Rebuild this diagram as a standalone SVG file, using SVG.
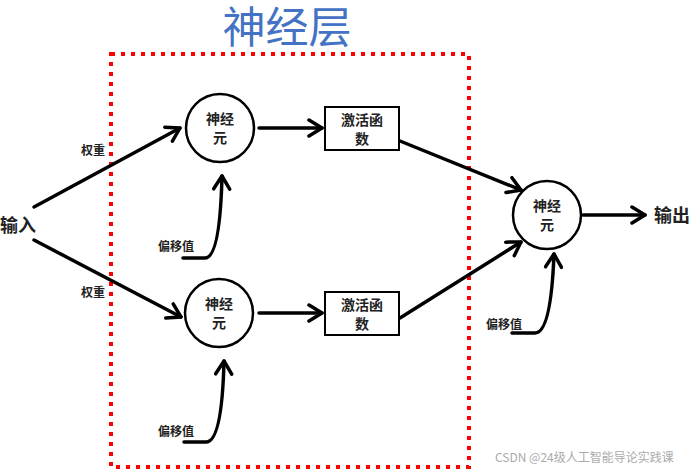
<svg xmlns="http://www.w3.org/2000/svg" width="694" height="472" viewBox="0 0 694 472">
<style>
.n{fill:#fff;stroke:#000;stroke-width:2.5}
.b{fill:#fff;stroke:#000;stroke-width:2}
.t{font-family:"Noto Sans CJK SC","Noto Sans",sans-serif;font-weight:bold;fill:#222}
.c{fill:none;stroke:#000;stroke-width:3.5;stroke-linecap:round}
</style>
<defs>
<marker id="ah" viewBox="0 0 20 20" refX="17" refY="10" markerWidth="20" markerHeight="20" markerUnits="userSpaceOnUse" orient="auto">
<path d="M4,2 L17,10 L4,18" fill="none" stroke="#000" stroke-width="3.5" stroke-linecap="round" stroke-linejoin="round"/>
</marker>
</defs>
<rect width="694" height="472" fill="#fff"/>
<text x="287" y="43" text-anchor="middle" font-family="'Noto Sans CJK SC',sans-serif" font-size="43" fill="#4472C4">神经层</text>
<rect x="111" y="54" width="358" height="413" fill="none" stroke="#f00" stroke-width="4" stroke-dasharray="4 6"/>
<g id="connectors">
<path class="c" d="M34,207 L180,128" marker-end="url(#ah)"/>
<path class="c" d="M34,240 L181,317" marker-end="url(#ah)"/>
<path class="c" d="M259,128 L322,128" marker-end="url(#ah)"/>
<path class="c" d="M259,313 L322,313" marker-end="url(#ah)"/>
<path class="c" d="M400,141 L521,190" marker-end="url(#ah)"/>
<path class="c" d="M400,318 L521,242" marker-end="url(#ah)"/>
<path class="c" d="M583,215 L645,215" marker-end="url(#ah)"/>
<path class="c" d="M183,258 L205,258 Q220,258 222,176" marker-end="url(#ah)"/>
<path class="c" d="M184,442 L206,442 Q222,442 224,361" marker-end="url(#ah)"/>
<path class="c" d="M512,333 L535,333 Q551,333 554,254" marker-end="url(#ah)"/>
</g>
<g id="input"><text class="t" x="0" y="232" font-size="18">输入</text></g>
<g id="w1"><text class="t" x="81" y="155" font-size="12">权重</text></g>
<g id="w2"><text class="t" x="81" y="297" font-size="12">权重</text></g>
<g id="neuron1">
<circle class="n" cx="220" cy="128" r="34"/>
<text class="t" x="220" y="124" font-size="14" text-anchor="middle">神经</text>
<text class="t" x="220" y="143" font-size="14" text-anchor="middle">元</text>
</g>
<g id="neuron2">
<circle class="n" cx="219" cy="313" r="34"/>
<text class="t" x="219" y="309" font-size="14" text-anchor="middle">神经</text>
<text class="t" x="219" y="328" font-size="14" text-anchor="middle">元</text>
</g>
<g id="act1">
<rect class="b" x="325" y="107" width="74" height="43"/>
<text class="t" x="362" y="125" font-size="14" text-anchor="middle">激活函</text>
<text class="t" x="362" y="144" font-size="14" text-anchor="middle">数</text>
</g>
<g id="act2">
<rect class="b" x="325" y="292" width="74" height="43"/>
<text class="t" x="362" y="310" font-size="14" text-anchor="middle">激活函</text>
<text class="t" x="362" y="329" font-size="14" text-anchor="middle">数</text>
</g>
<g id="neuron3">
<circle class="n" cx="547" cy="215" r="34"/>
<text class="t" x="547" y="211" font-size="14" text-anchor="middle">神经</text>
<text class="t" x="547" y="230" font-size="14" text-anchor="middle">元</text>
</g>
<g id="output"><text class="t" x="654" y="222" font-size="18">输出</text></g>
<g id="bias1"><text class="t" x="158" y="251" font-size="12">偏移值</text></g>
<g id="bias2"><text class="t" x="158" y="436" font-size="12">偏移值</text></g>
<g id="bias3"><text class="t" x="486" y="329" font-size="12">偏移值</text></g>
<text x="495" y="462" font-family="'Noto Sans CJK SC',sans-serif" font-size="12" fill="#aaa">CSDN @24级人工智能导论实践课</text>
</svg>
